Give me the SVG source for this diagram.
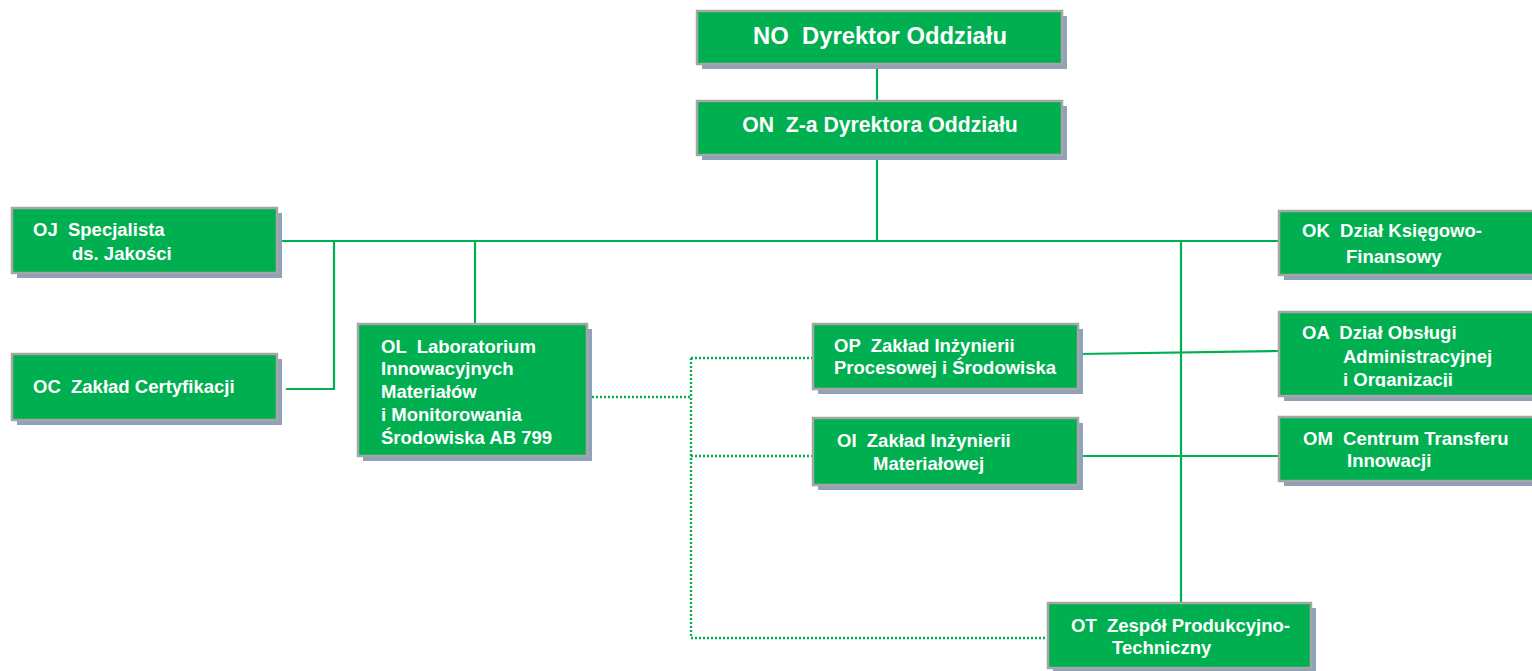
<svg xmlns="http://www.w3.org/2000/svg" width="1532" height="671" viewBox="0 0 1532 671">
<defs>
<style>
.sh{fill:#8fa2b9}
.bx{fill:#00b050;stroke:#a6a6a6;stroke-width:2.5}
.t{font-family:"Liberation Sans",Arial,sans-serif;font-weight:bold;font-size:18.5px;fill:#ffffff;white-space:pre}
.ln{stroke:#00b050;stroke-width:2.2;fill:none}
.dt{stroke:#00b050;stroke-width:2.4;fill:none;stroke-dasharray:2 2}
</style>
<clipPath id="oaclip"><rect x="1279" y="312" width="260" height="75"/></clipPath>
</defs>
<rect width="1532" height="671" fill="#ffffff"/>
<g id="connectors">
<line class="ln" x1="877" y1="64" x2="877" y2="101"/>
<line class="ln" x1="877" y1="155" x2="877" y2="241"/>
<line class="ln" x1="278" y1="241" x2="1280" y2="241"/>
<polyline class="ln" points="286,389 334,389 334,241"/>
<line class="ln" x1="475" y1="241" x2="475" y2="324"/>
<line class="ln" x1="1181" y1="241" x2="1181" y2="603"/>
<line class="ln" x1="1078" y1="354" x2="1280" y2="351"/>
<line class="ln" x1="1078" y1="456" x2="1280" y2="456"/>
<line class="dt" x1="592" y1="397" x2="691" y2="397"/>
<line class="dt" x1="691" y1="358" x2="691" y2="638"/>
<line class="dt" x1="691" y1="358" x2="813" y2="358"/>
<line class="dt" x1="691" y1="456" x2="813" y2="456"/>
<line class="dt" x1="691" y1="638" x2="1048" y2="638"/>
</g>
<g id="NO">
<rect class="sh" x="702" y="16" width="365" height="53"/>
<rect class="bx" x="697" y="11" width="365" height="53"/>
<text class="t" x="880" y="44" text-anchor="middle" style="font-size:23.8px">NO  Dyrektor Oddziału</text>
</g>
<g id="ON">
<rect class="sh" x="702" y="106" width="365" height="54"/>
<rect class="bx" x="697" y="101" width="365" height="54"/>
<text class="t" x="880" y="132" text-anchor="middle" style="font-size:21.2px">ON  Z-a Dyrektora Oddziału</text>
</g>
<g id="OJ">
<rect class="sh" x="17" y="213" width="265" height="65"/>
<rect class="bx" x="12" y="208" width="265" height="65"/>
<text class="t" x="33" y="236">OJ  Specjalista</text>
<text class="t" x="72" y="260">ds. Jakości</text>
</g>
<g id="OC">
<rect class="sh" x="17" y="359" width="265" height="66"/>
<rect class="bx" x="12" y="354" width="265" height="66"/>
<text class="t" x="33" y="393">OC  Zakład Certyfikacji</text>
</g>
<g id="OL">
<rect class="sh" x="363" y="329" width="229" height="132"/>
<rect class="bx" x="358" y="324" width="229" height="132"/>
<text class="t" x="381" y="353">OL  Laboratorium</text>
<text class="t" x="381" y="375">Innowacyjnych</text>
<text class="t" x="381" y="398">Materiałów</text>
<text class="t" x="381" y="421">i Monitorowania</text>
<text class="t" x="381" y="444">Środowiska AB 799</text>
</g>
<g id="OP">
<rect class="sh" x="818" y="329" width="265" height="65"/>
<rect class="bx" x="813" y="324" width="265" height="65"/>
<text class="t" x="834" y="352">OP  Zakład Inżynierii</text>
<text class="t" x="834" y="374">Procesowej i Środowiska</text>
</g>
<g id="OI">
<rect class="sh" x="818" y="423" width="265" height="67"/>
<rect class="bx" x="813" y="418" width="265" height="67"/>
<text class="t" x="837" y="447">OI  Zakład Inżynierii</text>
<text class="t" x="873" y="470">Materiałowej</text>
</g>
<g id="OK">
<rect class="sh" x="1284" y="216" width="260" height="64"/>
<rect class="bx" x="1279" y="211" width="260" height="64"/>
<text class="t" x="1302" y="237">OK  Dział Księgowo-</text>
<text class="t" x="1346" y="263">Finansowy</text>
</g>
<g id="OA">
<rect class="sh" x="1284" y="317" width="260" height="84"/>
<rect class="bx" x="1279" y="312" width="260" height="84"/>
<text class="t" x="1302" y="339">OA  Dział Obsługi</text>
<text class="t" x="1343" y="363">Administracyjnej</text>
<text class="t" x="1343" y="386" clip-path="url(#oaclip)">i Organizacji</text>
</g>
<g id="OM">
<rect class="sh" x="1284" y="422" width="260" height="64"/>
<rect class="bx" x="1279" y="417" width="260" height="64"/>
<text class="t" x="1303" y="445">OM  Centrum Transferu</text>
<text class="t" x="1347" y="467">Innowacji</text>
</g>
<g id="OT">
<rect class="sh" x="1053" y="608" width="263" height="65"/>
<rect class="bx" x="1048" y="603" width="263" height="65"/>
<text class="t" x="1071" y="632">OT  Zespół Produkcyjno-</text>
<text class="t" x="1112" y="654">Techniczny</text>
</g>
</svg>
